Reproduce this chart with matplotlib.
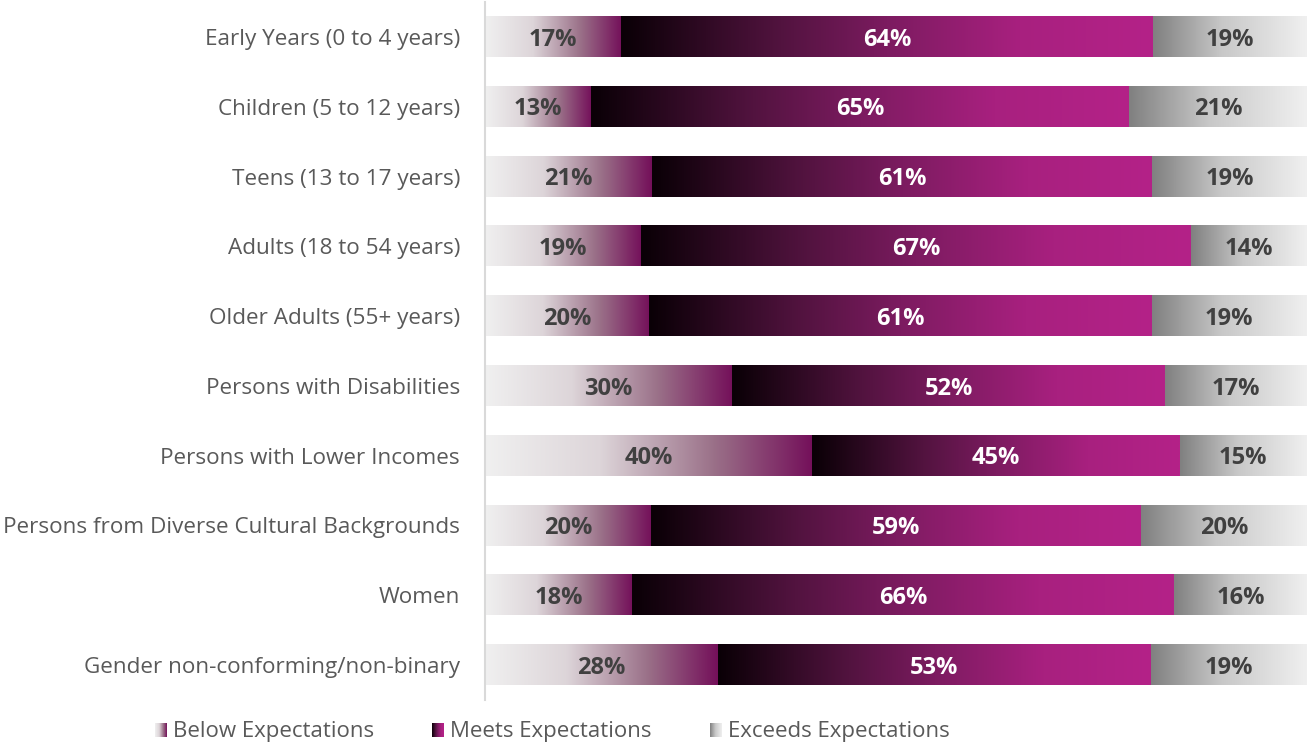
import numpy as np
import matplotlib
matplotlib.use('Agg')
import matplotlib.pyplot as plt
from matplotlib.colors import LinearSegmentedColormap

plt.rcParams['font.family'] = ['Open Sans', 'DejaVu Sans']

categories = ['Early Years (0 to 4 years)', 'Children (5 to 12 years)',
              'Teens (13 to 17 years)', 'Adults (18 to 54 years)',
              'Older Adults (55+ years)', 'Persons with Disabilities',
              'Persons with Lower Incomes',
              'Persons from Diverse Cultural Backgrounds', 'Women',
              'Gender non-conforming/non-binary']

# bar lengths and the labels printed on them
below = [16.6, 12.9, 20.3, 19.0, 20.0, 30.1, 39.8, 20.2, 17.9, 28.3]
meets = [64.7, 65.5, 60.9, 66.9, 61.1, 52.6, 44.7, 59.6, 65.9, 52.7]
exceeds = [18.7, 21.6, 18.8, 14.1, 18.9, 17.3, 15.5, 20.2, 16.2, 19.0]
below_lbl = [17, 13, 21, 19, 20, 30, 40, 20, 18, 28]
meets_lbl = [64, 65, 61, 67, 61, 52, 45, 59, 66, 53]
exceeds_lbl = [19, 21, 19, 14, 19, 17, 15, 20, 16, 19]

series_names = ['Below Expectations', 'Meets Expectations', 'Exceeds Expectations']

cm_below = LinearSegmentedColormap.from_list(
    'below', [(0, '#f0f0f0'), (0.35, '#ddd5d9'), (0.7, '#9a7088'), (1, '#74105a')])
cm_meets = LinearSegmentedColormap.from_list(
    'meets', [(0, '#0a0006'), (0.3, '#52133f'), (0.5, '#7c1b60'), (0.75, '#a8207f'), (1, '#b42288')])
cm_exceeds = LinearSegmentedColormap.from_list(
    'exceeds', [(0, '#808080'), (0.45, '#c8c8c8'), (1, '#f0f0f0')])
cmaps = [cm_below, cm_meets, cm_exceeds]
txt_colors = ['#404040', 'white', '#404040']

grad = np.linspace(0, 1, 256).reshape(1, -1)

fig = plt.figure(figsize=(13.07, 7.42), dpi=100)
ax = fig.add_axes([485 / 1307, 1 - 700 / 742, 822 / 1307, 698 / 742])

n = len(categories)
h = 0.575
for i in range(n):
    y = n - 1 - i
    vals = [below[i], meets[i], exceeds[i]]
    lbls = [below_lbl[i], meets_lbl[i], exceeds_lbl[i]]
    left = 0
    for k in range(3):
        ax.imshow(grad, extent=[left, left + vals[k], y - h / 2, y + h / 2],
                  cmap=cmaps[k], aspect='auto', interpolation='bilinear')
        ax.text(left + vals[k] / 2, y - 0.04, f'{lbls[k]}%', ha='center', va='center',
                fontsize=17, fontweight='bold', color=txt_colors[k])
        left += vals[k]

ax.set_xlim(0, 100)
ax.set_ylim(-0.5, n - 0.5)
ax.set_yticks(range(n))
ax.set_yticklabels(categories[::-1], fontsize=16.2, color='#595959')
ax.tick_params(axis='y', length=0, pad=18)
ax.set_xticks([])
for s in ['top', 'right', 'bottom']:
    ax.spines[s].set_visible(False)
ax.spines['left'].set_color('#d9d9d9')
ax.spines['left'].set_linewidth(1.5)

# legend
leg_x = [155, 432, 710]
for k in range(3):
    lax = fig.add_axes([leg_x[k] / 1307, 1 - 737 / 742, 12 / 1307, 14 / 742])
    lax.imshow(grad, cmap=cmaps[k], aspect='auto', extent=[0, 1, 0, 1])
    lax.axis('off')
    fig.text((leg_x[k] + 18) / 1307, 1 - 731 / 742, series_names[k],
             fontsize=16, color='#595959', va='center', ha='left')

fig.savefig('out.png', dpi=100)
